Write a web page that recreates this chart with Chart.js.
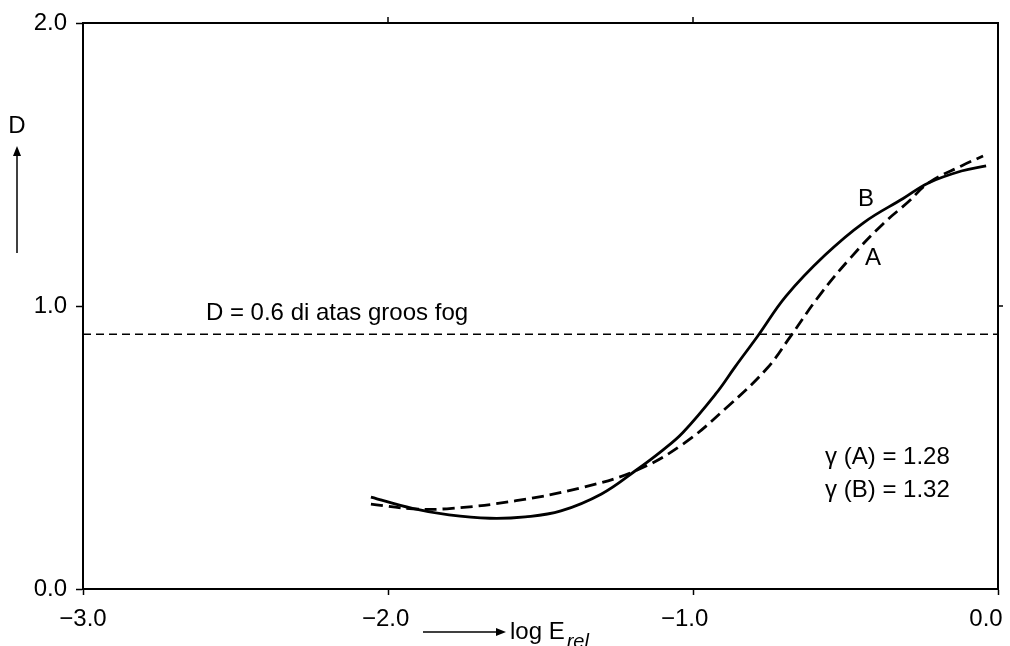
<!DOCTYPE html>
<html>
<head>
<meta charset="utf-8">
<script src="https://cdn.jsdelivr.net/npm/chart.js@4.4.1/dist/chart.umd.min.js"></script>
<style>
  body { margin: 0; background: #fff; }
  #wrap { width: 1010px; height: 646px; position: relative; }
</style>
</head>
<body>
<div id="wrap"><canvas id="curves"></canvas></div>
<script>
// log E_rel vs density
var xTicks = [-3, -2, -1, 0];
var yTicks = [0, 1, 2];

var logE_B = [-2.056, -1.92, -1.8, -1.666, -1.55, -1.433, -1.3, -1.19, -1.1, -1.033, -0.925, -0.862, -0.787, -0.695, -0.567, -0.44, -0.311, -0.228, -0.12, -0.039];
var dens_B = [0.325, 0.285, 0.262, 0.25, 0.255, 0.276, 0.336, 0.417, 0.49, 0.553, 0.69, 0.785, 0.895, 1.035, 1.18, 1.295, 1.38, 1.435, 1.477, 1.495];

var logE_A = [-2.056, -1.918, -1.79, -1.58, -1.37, -1.19, -1.033, -0.885, -0.757, -0.682, -0.587, -0.482, -0.377, -0.292, -0.228, -0.12, -0.049];
var dens_A = [0.3, 0.283, 0.285, 0.312, 0.357, 0.417, 0.512, 0.646, 0.78, 0.89, 1.035, 1.172, 1.29, 1.37, 1.435, 1.495, 1.53];

var fogLevel = 0.9;
var gammaA = 1.28;
var gammaB = 1.32;

var fontFam = "'Liberation Sans', Arial, Helvetica, sans-serif";

function toPoints(xs, ys) {
    return xs.map(function (x, i) { return { x: x, y: ys[i] }; });
}

var frame = {
    id: 'frame',
    afterDraw: function (chart) {
        var ctx = chart.ctx;
        var a = chart.chartArea;
        var xs = chart.scales.x;
        var ys = chart.scales.y;
        ctx.save();
        ctx.strokeStyle = '#000';
        ctx.lineWidth = 2;
        ctx.beginPath();
        ctx.moveTo(a.left, a.top);
        ctx.lineTo(a.right, a.top);
        ctx.lineTo(a.right, a.bottom);
        ctx.stroke();
        // small outward ticks on top and right
        ctx.lineWidth = 1.5;
        [-2, -1].forEach(function (v) {
            var px = xs.getPixelForValue(v);
            ctx.beginPath();
            ctx.moveTo(px, a.top);
            ctx.lineTo(px, a.top - 6);
            ctx.stroke();
        });
        var py1 = ys.getPixelForValue(1);
        ctx.beginPath();
        ctx.moveTo(a.right, py1);
        ctx.lineTo(a.right + 5, py1);
        ctx.stroke();

        // notes inside the plot
        ctx.fillStyle = '#000';
        ctx.font = '24px ' + fontFam;
        ctx.textBaseline = 'middle';
        ctx.textAlign = 'left';
        ctx.fillText('D = 0.6 di atas groos fog', xs.getPixelForValue(-2.597), ys.getPixelForValue(0.975));
        ctx.fillText('\u03b3 (A) = ' + gammaA.toFixed(2), xs.getPixelForValue(-0.567), ys.getPixelForValue(0.466));
        ctx.fillText('\u03b3 (B) = ' + gammaB.toFixed(2), xs.getPixelForValue(-0.567), ys.getPixelForValue(0.35));
        ctx.textAlign = 'center';
        ctx.fillText('B', xs.getPixelForValue(-0.433), ys.getPixelForValue(1.378));
        ctx.fillText('A', xs.getPixelForValue(-0.41), ys.getPixelForValue(1.17));

        // y axis title: D with arrow up
        ctx.fillText('D', 17, 126);
        ctx.lineWidth = 1.5;
        ctx.beginPath();
        ctx.moveTo(17, 253);
        ctx.lineTo(17, 150);
        ctx.stroke();
        ctx.beginPath();
        ctx.moveTo(17, 146);
        ctx.lineTo(13, 156);
        ctx.lineTo(21, 156);
        ctx.closePath();
        ctx.fill();

        // x axis title: arrow then log E_rel
        var ay = 632;
        ctx.beginPath();
        ctx.moveTo(423, ay);
        ctx.lineTo(500, ay);
        ctx.stroke();
        ctx.beginPath();
        ctx.moveTo(506, ay);
        ctx.lineTo(496, ay - 4);
        ctx.lineTo(496, ay + 4);
        ctx.closePath();
        ctx.fill();
        ctx.textAlign = 'left';
        ctx.textBaseline = 'alphabetic';
        ctx.font = '24px ' + fontFam;
        ctx.fillText('log E', 510, 639);
        var w = ctx.measureText('log E').width;
        ctx.font = 'italic 20px ' + fontFam;
        ctx.fillText('rel', 510 + w + 2, 648);
        ctx.restore();
    }
};

// trailing spaces nudge a centred tick label to the left, as in the scan
function xLabel(v) {
    var s = (v < 0 ? '\u2212' : '') + Math.abs(v).toFixed(1);
    if (v === 0) return s + '\u2003';
    if (v === -1) return s + '\u2002\u2009';
    if (v === -2) return s + '\u2009';
    return s;
}

var ctx = document.getElementById('curves').getContext('2d');

var data = {
    datasets: [
        {
            label: 'B',
            data: toPoints(logE_B, dens_B),
            borderColor: '#000',
            borderWidth: 2.8,
            pointRadius: 0,
            tension: 0.4,
            fill: false
        },
        {
            label: 'A',
            data: toPoints(logE_A, dens_A),
            borderColor: '#000',
            borderWidth: 2.8,
            borderDash: [12, 6],
            pointRadius: 0,
            tension: 0.4,
            fill: false
        },
        {
            label: 'fog',
            data: toPoints([xTicks[0], xTicks[xTicks.length - 1]], [fogLevel, fogLevel]),
            borderColor: '#000',
            borderWidth: 1.5,
            borderDash: [8, 5],
            pointRadius: 0,
            fill: false
        }
    ]
};

var options = {
    responsive: true,
    maintainAspectRatio: false,
    animation: false,
    layout: { padding: { top: 23, right: 12, left: 0, bottom: 0 } },
    plugins: {
        legend: { display: false },
        tooltip: { enabled: false }
    },
    scales: {
        x: {
            type: 'linear',
            min: -3,
            max: 0,
            afterBuildTicks: function (s) {
                s.ticks = xTicks.map(function (v) { return { value: v }; });
            },
            afterFit: function (s) {
                s.height = 57;
                s.paddingLeft = 0;
                s.paddingRight = 0;
            },
            border: { color: '#000', width: 2 },
            grid: { drawOnChartArea: false, tickLength: 6, tickColor: '#000', tickWidth: 1.5 },
            ticks: {
                color: '#000',
                padding: 10,
                maxRotation: 0,
                autoSkip: false,
                font: { size: 24, family: fontFam },
                callback: function (v) { return xLabel(v); }
            }
        },
        y: {
            type: 'linear',
            min: 0,
            max: 2,
            afterBuildTicks: function (s) {
                s.ticks = yTicks.map(function (v) { return { value: v }; });
            },
            afterFit: function (s) {
                s.width = 83;
                s.paddingTop = 0;
                s.paddingBottom = 0;
            },
            border: { color: '#000', width: 2 },
            grid: { drawOnChartArea: false, tickLength: 7, tickColor: '#000', tickWidth: 1.5 },
            ticks: {
                color: '#000',
                padding: 9,
                font: { size: 24, family: fontFam },
                callback: function (v) { return v.toFixed(1); }
            }
        }
    }
};

var densityChart = new Chart(ctx, {
    type: 'line',
    data: data,
    options: options,
    plugins: [frame]
});
</script>
</body>
</html>
